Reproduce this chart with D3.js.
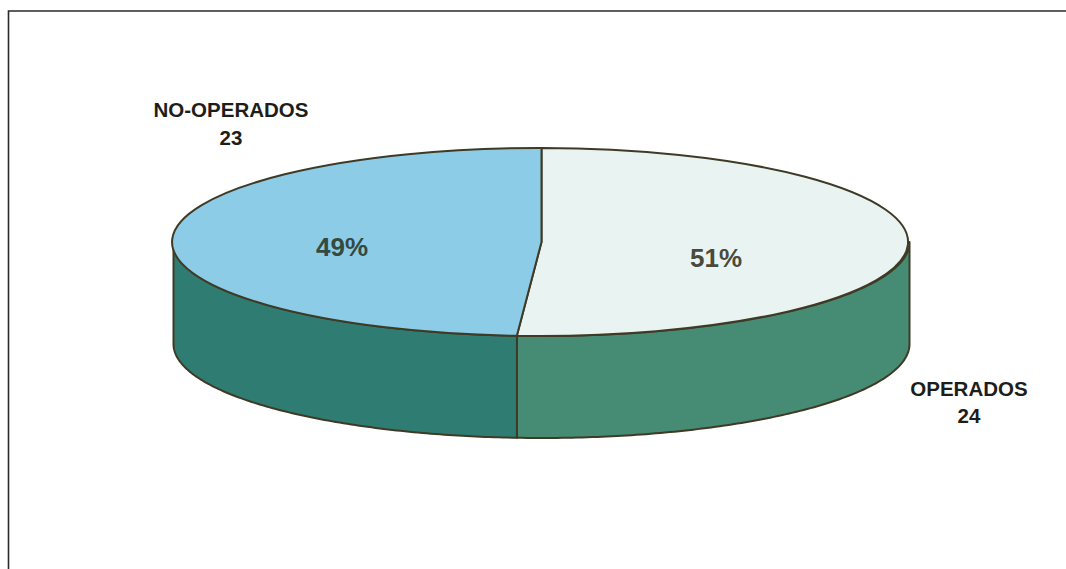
<!DOCTYPE html>
<html lang="es">
<head>
<meta charset="utf-8">
<title>Operados y no operados</title>
<script src="https://cdn.jsdelivr.net/npm/d3@7/dist/d3.min.js"></script>
<style>
  html, body { margin: 0; padding: 0; background: #fff; }
  svg { display: block; }
  text { font-family: "Liberation Sans", Arial, sans-serif; font-weight: 700; }
</style>
</head>
<body>
<svg id="chart" width="1066" height="569"></svg>
<script>
// Patient counts, drawn clockwise from twelve o'clock
const categories = ["OPERADOS", "NO-OPERADOS"];
const patients = [24, 23];
const shares = ["51%", "49%"];
const topColors = ["#e9f4f2", "#8ccce7"];
const wallColors = ["#468b74", "#2f7d72"];

const width = 1066, height = 569;
const cx = 541.5, cy = 242, rx = 368, ry = 94, depth = 102;
const ink = "#3f3a26";

const svg = d3.select("#chart").attr("viewBox", [0, 0, width, height]);

// Frame around the chart
svg.append("path")
  .attr("d", d3.line()([[8.5, 569], [8.5, 11], [1066, 11]]))
  .attr("fill", "none").attr("stroke", "#2a2c28").attr("stroke-width", 1.6);

const slices = d3.pie().sort(null)(patients);

// Position on the tilted rim; angle 0 is twelve o'clock, growing clockwise
const rimX = a => cx + rx * Math.sin(a);
const rimY = a => cy - ry * Math.cos(a);

// Cylinder wall: only the front half of the rim, from 3 o'clock to 9 o'clock, is visible
const wallArea = d3.area()
  .x(rimX)
  .y0(rimY)
  .y1(a => rimY(a) + depth);

const wallSpan = (s) => {
  const a0 = Math.max(s.startAngle, Math.PI / 2);
  const a1 = Math.min(s.endAngle, 3 * Math.PI / 2);
  return d3.range(0, 121).map(i => a0 + (a1 - a0) * i / 120);
};

svg.append("g").selectAll("path")
  .data(slices)
  .join("path")
  .attr("d", s => wallArea(wallSpan(s)))
  .attr("fill", (s, i) => wallColors[i])
  .attr("stroke", ink)
  .attr("stroke-width", 2)
  .attr("stroke-linejoin", "round");

// Top face: unit-radius pie squashed into an ellipse, keeping an even outline
const arc = d3.arc().innerRadius(0).outerRadius(1);
svg.append("g")
  .attr("transform", `translate(${cx},${cy}) scale(${rx},${ry})`)
  .selectAll("path")
  .data(slices)
  .join("path")
  .attr("d", arc)
  .attr("fill", (s, i) => topColors[i])
  .attr("stroke", ink)
  .attr("stroke-width", 2)
  .attr("stroke-linejoin", "round")
  .attr("vector-effect", "non-scaling-stroke");

// Percentages on the slices
const shareAnchors = [[716, 267], [342, 256]];
svg.append("g").selectAll("text")
  .data(shares)
  .join("text")
  .attr("x", (d, i) => shareAnchors[i][0])
  .attr("y", (d, i) => shareAnchors[i][1])
  .attr("text-anchor", "middle")
  .attr("font-size", 26)
  .attr("fill", (d, i) => i === 0 ? "#4a4a3c" : "#35493f")
  .text(d => d);

// Category name and count outside the pie
const labelAnchors = [[969, 395.5], [231, 117]];
const labels = svg.append("g").selectAll("text")
  .data(categories)
  .join("text")
  .attr("text-anchor", "middle")
  .attr("font-size", 20.5)
  .attr("fill", "#1d1d1a");
labels.append("tspan")
  .attr("x", (d, i) => labelAnchors[i][0])
  .attr("y", (d, i) => labelAnchors[i][1])
  .text(d => d);
labels.append("tspan")
  .attr("x", (d, i) => labelAnchors[i][0])
  .attr("y", (d, i) => labelAnchors[i][1] + 27.5)
  .text((d, i) => patients[i]);
</script>
</body>
</html>
